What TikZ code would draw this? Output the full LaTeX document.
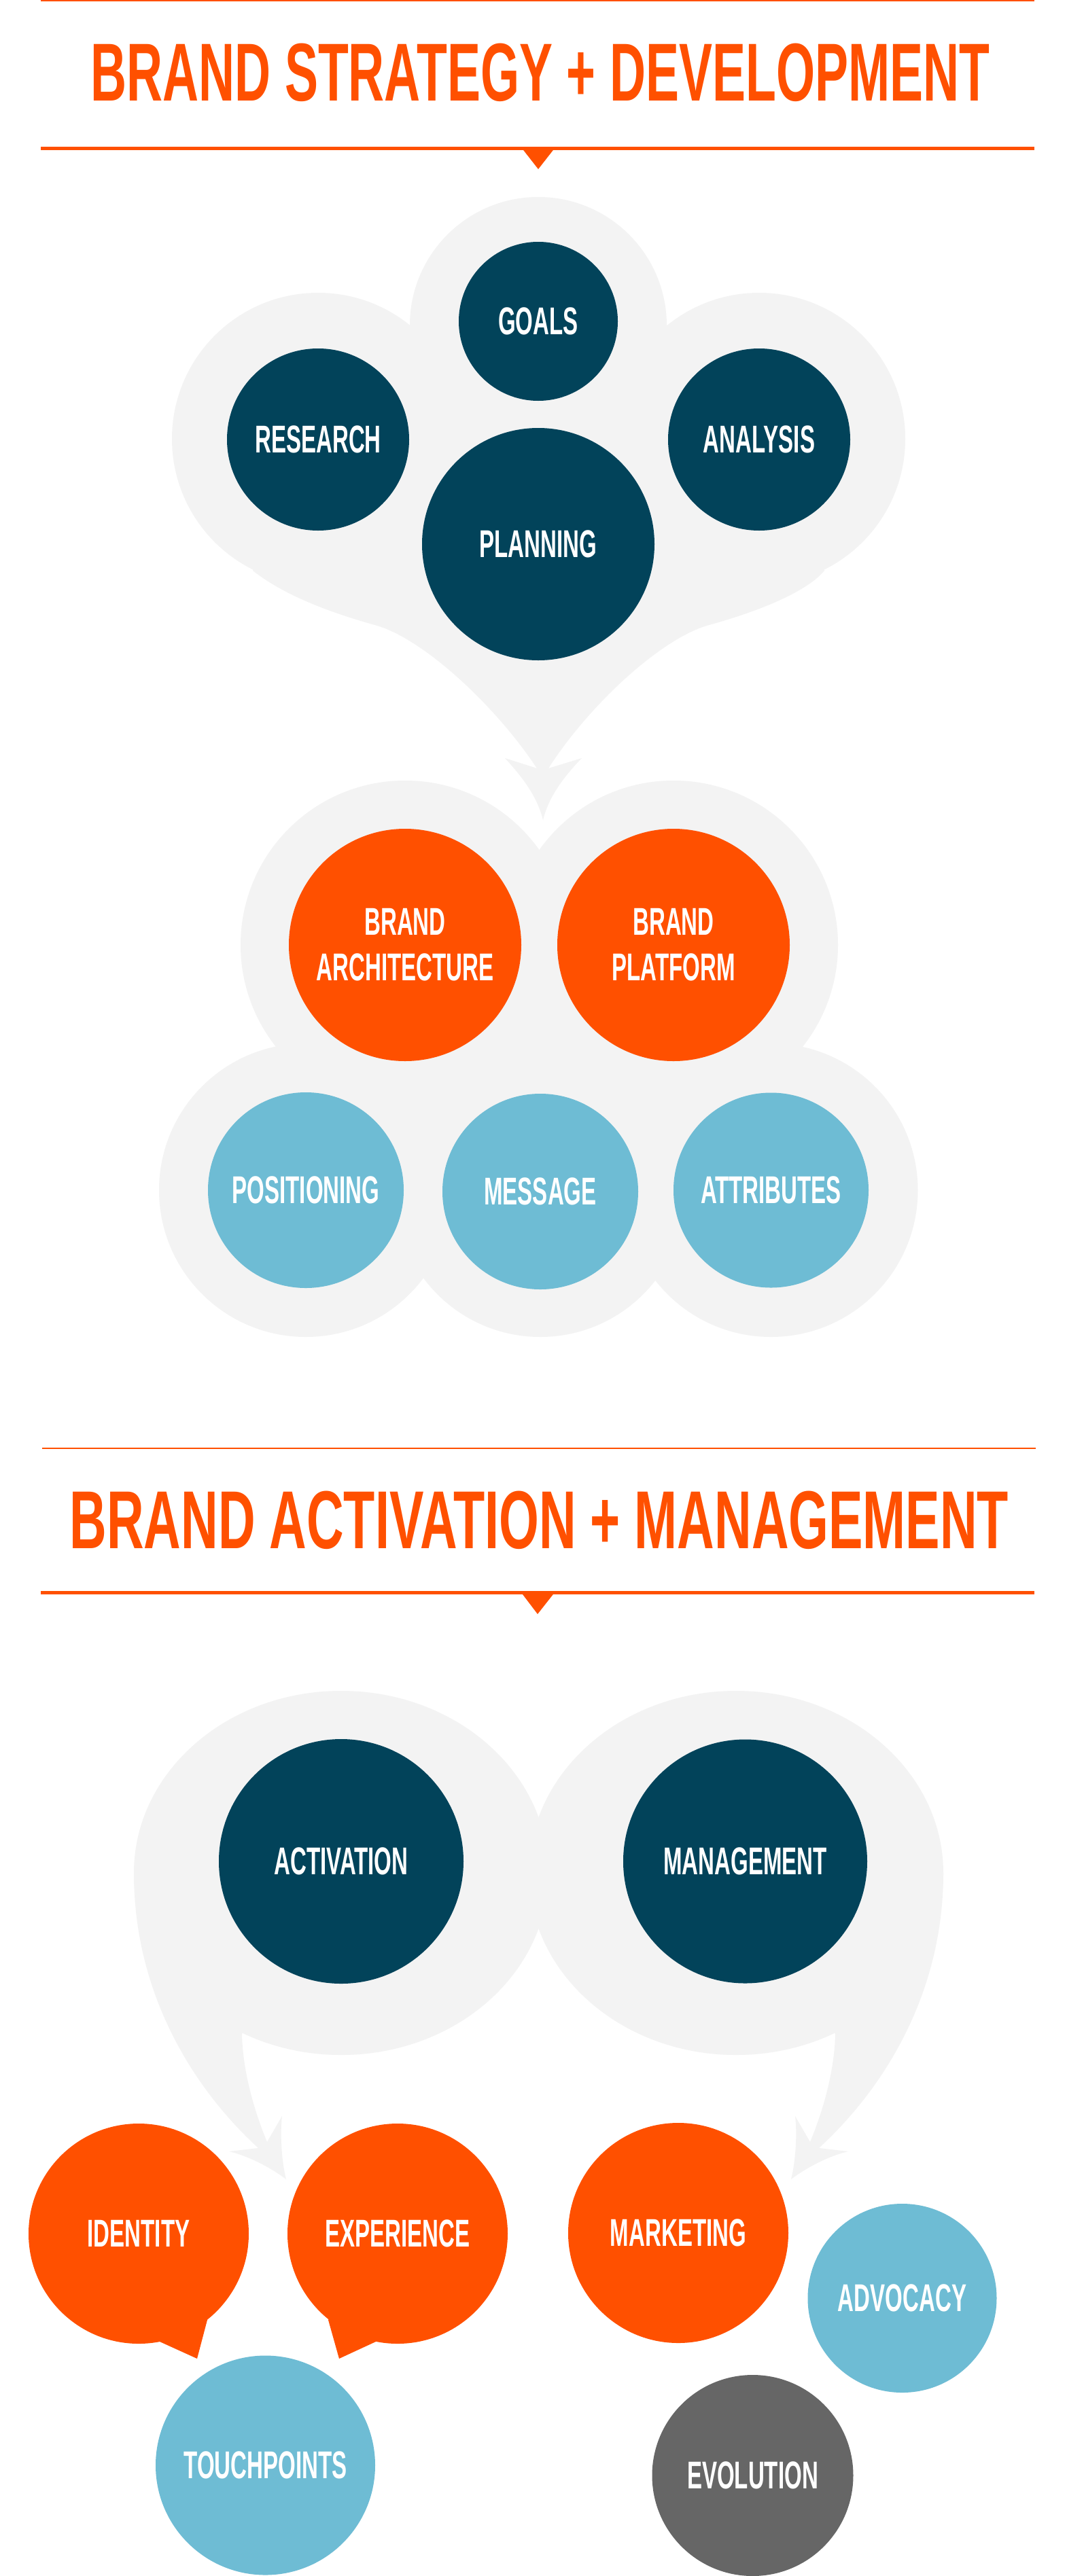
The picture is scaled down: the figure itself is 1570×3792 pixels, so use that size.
\documentclass[tikz,border=0pt]{standalone}
\usepackage{fontspec}
\newfontfamily\labfont{Liberation Sans}[FakeStretch=0.58]
\newfontfamily\ttlfontA{Liberation Sans}[FakeStretch=0.607]
\newfontfamily\ttlfontB{Liberation Sans}[FakeStretch=0.625]
\definecolor{brorange}{HTML}{FF5000}
\definecolor{brteal}{HTML}{02435A}
\definecolor{brblue}{HTML}{6EBCD4}
\definecolor{brgray}{HTML}{F3F3F3}
\definecolor{brdark}{HTML}{666666}
\tikzset{
  bgshape/.style={fill=brgray},
  bubble/.style={circle, inner sep=0pt, draw=none, text=white, align=center,
    font=\labfont\bfseries\fontsize{57}{67}\selectfont},
  tealb/.style={bubble, fill=brteal},
  orangeb/.style={bubble, fill=brorange},
  blueb/.style={bubble, fill=brblue},
  darkb/.style={bubble, fill=brdark},
  ttl/.style={inner sep=0pt, text=brorange, anchor=base},
  thinrule/.style={draw=brorange, line width=2.5pt},
  thickrule/.style={draw=brorange, line width=5pt},
}
\begin{document}
\begin{tikzpicture}[x=1pt,y=-1pt]
\useasboundingbox (0,0) rectangle (1570,3792);
\fill[white] (0,0) rectangle (1570,3792);

% ---------- Section 1 header ----------
\draw[thinrule] (60,1) -- (1522,1);
\node[ttl, font=\ttlfontA\bfseries\fontsize{121}{121}\selectfont] (title1) at (795,149) {BRAND STRATEGY + DEVELOPMENT};
\draw[thickrule] (60,218.5) -- (1522,218.5);
\fill[brorange] (767,217) -- (817,217) -- (792,249) -- cycle;

% ---------- Section 1 grey blob ----------
\fill[bgshape] (468,646) circle (215pt);
\fill[bgshape] (792,479) circle (189pt);
\fill[bgshape] (1117,646) circle (215pt);
\fill[bgshape] (372,840) .. controls (400,862) and (450,892) .. (555,921)
  .. controls (625,942) and (730,1040) .. (790,1131)
  -- (743,1116) .. controls (765,1140) and (790,1170) .. (799,1207)
  .. controls (808,1170) and (833,1140) .. (856,1116)
  -- (807,1131) .. controls (865,1040) and (970,942) .. (1040,921)
  .. controls (1145,892) and (1195,862) .. (1213,840)
  -- (1117,646) -- (792,479) -- (468,646) -- cycle;

\node[tealb, minimum size=234pt] (goals) at (792,473) {GOALS};
\node[tealb, minimum size=268pt] (research) at (468,647) {RESEARCH};
\node[tealb, minimum size=268pt] (analysis) at (1117,647) {ANALYSIS};
\node[tealb, minimum size=342pt] (planning) at (792,801) {PLANNING};

% ---------- Section 2 grey blob ----------
\fill[bgshape] (596,1391) circle (242pt);
\fill[bgshape] (991,1391) circle (242pt);
\fill[bgshape] (450,1752) circle (216pt);
\fill[bgshape] (795,1754) circle (214pt);
\fill[bgshape] (1134.5,1752) circle (216pt);
\fill[bgshape] (596,1391) -- (991,1391) -- (1134.5,1752) -- (450,1752) -- cycle;

\node[orangeb, minimum size=342pt] (brandarch) at (596,1391) {BRAND\\ARCHITECTURE};
\node[orangeb, minimum size=342pt] (brandplat) at (991,1391) {BRAND\\PLATFORM};
\node[blueb, minimum size=288pt] (positioning) at (450,1752) {POSITIONING};
\node[blueb, minimum size=288pt] (message) at (795,1754) {MESSAGE};
\node[blueb, minimum size=287pt] (attributes) at (1134.5,1752) {ATTRIBUTES};

% ---------- Section 2 header ----------
\draw[thinrule] (62,2132) -- (1524,2132);
\node[ttl, font=\ttlfontB\bfseries\fontsize{121}{121}\selectfont] (title2) at (793.5,2279) {BRAND ACTIVATION + MANAGEMENT};
\draw[thickrule] (60,2344.5) -- (1522,2344.5);
\fill[brorange] (766,2343) -- (817,2343) -- (791,2376) -- cycle;

% ---------- Section 3 grey bubbles ----------
\fill[bgshape] (502,2757) ellipse [x radius=305pt, y radius=268pt];
\fill[bgshape] (1083,2757) ellipse [x radius=305pt, y radius=268pt];
\fill[bgshape] (197,2757) .. controls (197,2930) and (280,3070) .. (380,3162)
  -- (337,3167) .. controls (360,3172) and (395,3188) .. (421,3208)
  .. controls (414,3180) and (412,3140) .. (415,3115)
  -- (393,3153) .. controls (375,3110) and (357,3050) .. (356,2994)
  -- (502,2757) -- cycle;
\fill[bgshape] (1388,2757) .. controls (1388,2930) and (1305,3070) .. (1205,3162)
  -- (1248,3167) .. controls (1225,3172) and (1190,3188) .. (1164,3208)
  .. controls (1171,3180) and (1173,3140) .. (1170,3115)
  -- (1192,3153) .. controls (1210,3110) and (1228,3050) .. (1229,2994)
  -- (1083,2757) -- cycle;

\node[tealb, minimum size=360pt] (activation) at (502,2740) {ACTIVATION};
\node[tealb, minimum size=359pt] (management) at (1096.5,2740) {MANAGEMENT};

% ---------- Section 3 bottom circles ----------
\fill[brorange] (305,3415) -- (290,3472) -- (235,3447) -- (204,3288) -- cycle;
\fill[brorange] (483,3415) -- (499,3472) -- (553,3447) -- (585,3288) -- cycle;
\node[orangeb, minimum size=324pt] (identity) at (204,3288) {IDENTITY};
\node[orangeb, minimum size=324pt] (experience) at (585,3288) {EXPERIENCE};
\node[orangeb, minimum size=324pt] (marketing) at (998,3287) {MARKETING};
\node[blueb, minimum size=278pt] (advocacy) at (1327.5,3383) {ADVOCACY};
\node[blueb, minimum size=323pt] (touchpoints) at (390.5,3629) {TOUCHPOINTS};
\node[darkb, minimum size=296pt] (evolution) at (1107.5,3644) {EVOLUTION};
\end{tikzpicture}
\end{document}
